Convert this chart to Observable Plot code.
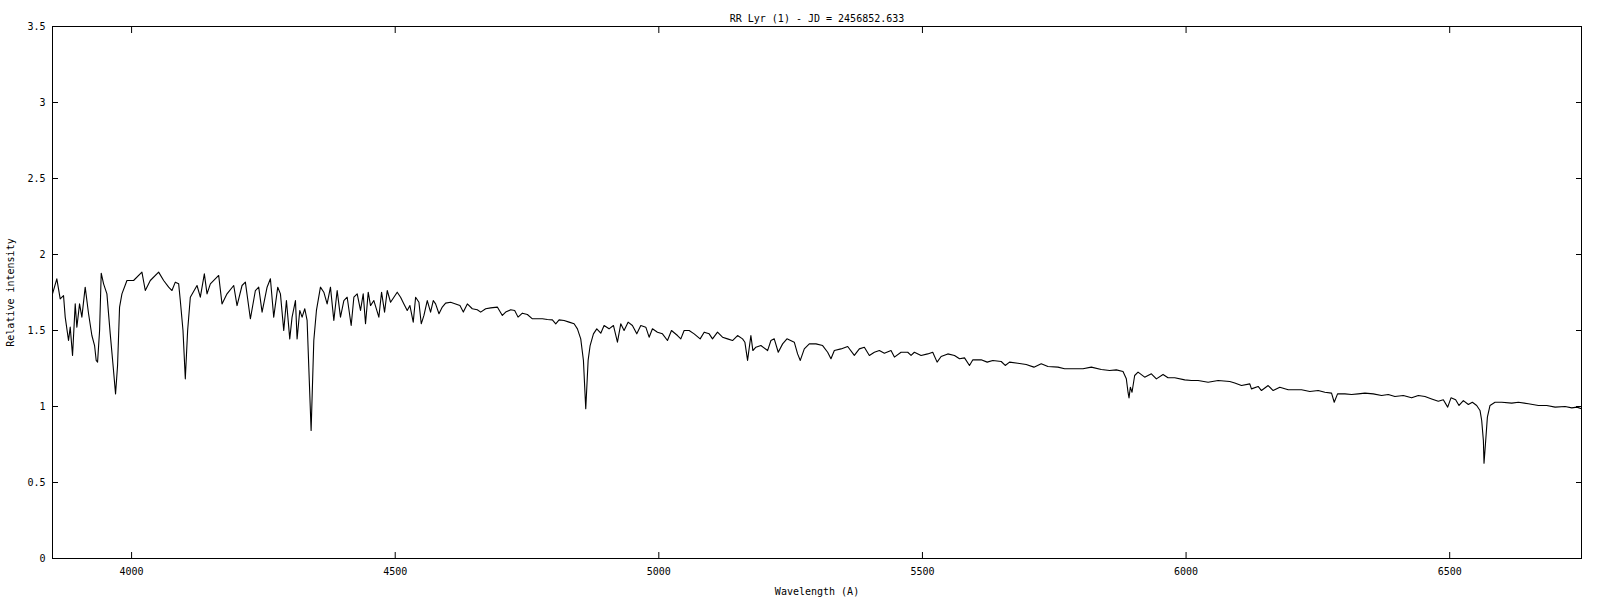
<!DOCTYPE html>
<html>
<head>
<meta charset="utf-8">
<script src="https://cdn.jsdelivr.net/npm/d3@7"></script>
<script src="https://cdn.jsdelivr.net/npm/@observablehq/plot@0.6"></script>
<style>
  html, body { margin: 0; padding: 0; background: #fff; }
  #chart svg { display: block; }
</style>
</head>
<body>
<div id="chart"></div>
<script>
const title = "RR Lyr (1) - JD = 2456852.633";
const xLabel = "Wavelength (A)";
const yLabel = "Relative intensity";
const xTicks = [4000, 4500, 5000, 5500, 6000, 6500];
const yTicks = [0, 0.5, 1, 1.5, 2, 2.5, 3, 3.5];
const xDomain = [3850, 6750];
const yDomain = [0, 3.5];

const wavelength = [
  3850.0, 3858.2, 3864.6, 3870.9, 3874.1, 3880.4, 3883.6, 3888.0, 3893.1, 3896.2,
  3901.3, 3905.7, 3912.0, 3918.4, 3924.7, 3929.8, 3932.9, 3935.5, 3939.3, 3942.4,
  3946.9, 3953.2, 3959.5, 3964.6, 3969.6, 3973.4, 3977.2, 3981.7, 3991.2, 4003.8,
  4019.6, 4026.0, 4035.5, 4051.3, 4060.8, 4070.3, 4076.6, 4082.9, 4089.3, 4092.4,
  4097.5, 4101.9, 4106.3, 4111.4, 4124.1, 4130.4, 4138.0, 4143.1, 4149.4, 4165.2,
  4171.5, 4181.0, 4193.7, 4200.0, 4209.5, 4215.8, 4225.3, 4234.8, 4241.1, 4247.5,
  4257.0, 4263.3, 4269.6, 4277.2, 4282.3, 4288.6, 4293.7, 4300.0, 4304.4, 4310.8,
  4313.9, 4319.0, 4323.4, 4328.5, 4332.9, 4336.1, 4340.5, 4345.6, 4350.6, 4358.2,
  4364.6, 4370.9, 4377.2, 4383.6, 4389.9, 4396.2, 4402.6, 4408.9, 4416.5, 4421.6,
  4427.9, 4434.2, 4439.3, 4443.7, 4448.8, 4453.2, 4459.5, 4469.0, 4474.1, 4479.8,
  4484.9, 4491.2, 4497.5, 4503.8, 4510.2, 4516.5, 4522.8, 4527.9, 4534.2, 4538.7,
  4545.0, 4549.4, 4554.5, 4560.8, 4567.1, 4572.2, 4576.6, 4583.0, 4589.3, 4595.6,
  4605.1, 4614.6, 4622.8, 4629.2, 4636.8, 4646.2, 4655.7, 4662.1, 4671.6, 4681.1,
  4693.7, 4703.2, 4709.5, 4719.0, 4726.6, 4733.0, 4741.2, 4750.7, 4760.2, 4769.7,
  4779.2, 4788.6, 4798.1, 4804.5, 4810.8, 4820.3, 4829.8, 4839.3, 4845.6, 4851.9,
  4857.0, 4861.4, 4865.9, 4869.7, 4876.0, 4882.3, 4889.9, 4896.2, 4905.6, 4913.9,
  4921.5, 4927.8, 4934.1, 4941.7, 4949.9, 4958.2, 4965.8, 4975.3, 4981.6, 4987.9,
  4997.4, 5006.9, 5016.4, 5024.0, 5035.4, 5041.7, 5048.0, 5057.5, 5067.0, 5078.4,
  5086.0, 5095.5, 5101.8, 5111.3, 5120.8, 5130.3, 5139.8, 5149.3, 5158.8, 5163.2,
  5168.3, 5174.6, 5178.4, 5184.1, 5193.6, 5206.3, 5212.6, 5218.9, 5226.5, 5234.8,
  5243.0, 5256.9, 5263.2, 5268.3, 5275.9, 5285.4, 5298.0, 5310.7, 5320.2, 5326.5,
  5332.9, 5345.5, 5358.2, 5370.8, 5380.3, 5389.8, 5399.3, 5408.8, 5418.3, 5427.8,
  5440.4, 5446.8, 5459.4, 5472.1, 5478.4, 5484.7, 5497.4, 5510.0, 5519.5, 5527.8,
  5535.4, 5548.1, 5560.8, 5570.3, 5579.8, 5589.2, 5595.6, 5611.4, 5622.8, 5633.5,
  5649.4, 5657.0, 5665.2, 5681.0, 5696.8, 5711.4, 5725.3, 5738.0, 5757.0, 5769.6,
  5788.6, 5804.4, 5820.3, 5839.2, 5855.1, 5867.7, 5880.4, 5886.7, 5889.9, 5891.8,
  5894.3, 5897.5, 5902.5, 5908.9, 5921.5, 5934.2, 5943.7, 5956.3, 5965.8, 5978.5,
  5997.5, 6010.1, 6022.8, 6041.8, 6060.8, 6082.9, 6092.4, 6105.1, 6120.9, 6124.0,
  6136.7, 6143.0, 6155.7, 6165.2, 6177.8, 6193.7, 6219.0, 6234.8, 6250.6, 6263.2,
  6275.9, 6281.0, 6287.3, 6301.2, 6313.9, 6326.5, 6339.2, 6355.0, 6370.8, 6383.5,
  6396.1, 6412.0, 6427.8, 6440.5, 6453.1, 6465.8, 6478.4, 6487.9, 6496.2, 6502.5,
  6511.3, 6517.7, 6525.9, 6535.4, 6543.0, 6551.2, 6557.5, 6560.7, 6563.9, 6565.1,
  6568.3, 6571.5, 6576.5, 6586.0, 6598.7, 6617.7, 6630.3, 6649.3, 6668.3, 6684.1,
  6700.0, 6718.9, 6731.6, 6741.1, 6750.0
];

const intensity = [
  1.741, 1.840, 1.708, 1.730, 1.588, 1.434, 1.522, 1.336, 1.675, 1.522,
  1.675, 1.588, 1.785, 1.610, 1.467, 1.401, 1.303, 1.292, 1.500, 1.877,
  1.807, 1.741, 1.478, 1.281, 1.083, 1.270, 1.654, 1.741, 1.829, 1.829,
  1.884, 1.763, 1.829, 1.884, 1.829, 1.785, 1.763, 1.818, 1.807, 1.697,
  1.500, 1.182, 1.500, 1.719, 1.796, 1.719, 1.873, 1.741, 1.807, 1.862,
  1.675, 1.741, 1.796, 1.664, 1.796, 1.818, 1.577, 1.763, 1.785, 1.621,
  1.785, 1.840, 1.588, 1.785, 1.741, 1.500, 1.697, 1.445, 1.588, 1.697,
  1.445, 1.632, 1.588, 1.643, 1.566, 1.259, 0.842, 1.434, 1.632, 1.785,
  1.752, 1.675, 1.785, 1.566, 1.763, 1.588, 1.697, 1.719, 1.533, 1.719,
  1.741, 1.632, 1.741, 1.544, 1.752, 1.664, 1.697, 1.588, 1.752, 1.621,
  1.763, 1.686, 1.719, 1.752, 1.719, 1.675, 1.632, 1.664, 1.555, 1.719,
  1.686, 1.544, 1.599, 1.697, 1.621, 1.697, 1.675, 1.610, 1.654, 1.680,
  1.686, 1.675, 1.664, 1.621, 1.675, 1.643, 1.636, 1.621, 1.643, 1.649,
  1.654, 1.599, 1.621, 1.636, 1.632, 1.588, 1.614, 1.605, 1.577, 1.577,
  1.577, 1.572, 1.570, 1.544, 1.570, 1.566, 1.555, 1.544, 1.511, 1.445,
  1.303, 0.985, 1.303, 1.401, 1.478, 1.511, 1.482, 1.533, 1.511, 1.533,
  1.423, 1.544, 1.500, 1.555, 1.533, 1.478, 1.533, 1.522, 1.456, 1.511,
  1.489, 1.478, 1.434, 1.500, 1.467, 1.445, 1.500, 1.500, 1.478, 1.445,
  1.489, 1.478, 1.445, 1.489, 1.456, 1.445, 1.434, 1.467, 1.445, 1.423,
  1.303, 1.467, 1.368, 1.390, 1.401, 1.368, 1.434, 1.445, 1.357, 1.412,
  1.445, 1.423, 1.346, 1.303, 1.379, 1.412, 1.412, 1.401, 1.357, 1.314,
  1.368, 1.379, 1.395, 1.336, 1.379, 1.390, 1.336, 1.357, 1.368, 1.351,
  1.368, 1.325, 1.357, 1.357, 1.336, 1.357, 1.336, 1.346, 1.357, 1.292,
  1.329, 1.346, 1.336, 1.314, 1.320, 1.270, 1.307, 1.307, 1.292, 1.303,
  1.296, 1.270, 1.292, 1.285, 1.276, 1.259, 1.281, 1.263, 1.259, 1.248,
  1.248, 1.248, 1.259, 1.243, 1.237, 1.241, 1.230, 1.182, 1.094, 1.057,
  1.127, 1.094, 1.204, 1.226, 1.193, 1.215, 1.182, 1.211, 1.189, 1.189,
  1.175, 1.171, 1.171, 1.160, 1.171, 1.164, 1.154, 1.138, 1.149, 1.116,
  1.132, 1.105, 1.138, 1.105, 1.127, 1.110, 1.110, 1.099, 1.105, 1.094,
  1.088, 1.028, 1.083, 1.083, 1.079, 1.083, 1.088, 1.083, 1.072, 1.079,
  1.066, 1.072, 1.057, 1.072, 1.066, 1.050, 1.035, 1.044, 0.996, 1.057,
  1.044, 1.007, 1.039, 1.013, 1.028, 1.007, 0.974, 0.908, 0.776, 0.627,
  0.776, 0.930, 1.007, 1.028, 1.028, 1.022, 1.028, 1.018, 1.007, 1.007,
  0.996, 1.000, 0.991, 0.996, 0.985
];

const spectrum = wavelength.map((w, i) => ({wavelength: w, intensity: intensity[i]}));

const font = "'DejaVu Sans Mono', monospace";
const fmt = d => String(d);

const chart = Plot.plot({
  width: 1600,
  height: 600,
  marginLeft: 52,
  marginRight: 19,
  marginTop: 26,
  marginBottom: 42,
  style: {fontFamily: font, fontSize: "10px", color: "#000", background: "#fff"},
  x: {domain: xDomain},
  y: {domain: yDomain},
  marks: [
    Plot.frame({stroke: "#000", strokeWidth: 1}),
    Plot.axisX(xTicks, {anchor: "bottom", tickSize: -6, tickPadding: 15, tickFormat: fmt,
      label: xLabel, labelAnchor: "center", labelOffset: 36, labelArrow: "none", fill: "#000"}),
    Plot.axisX(xTicks, {anchor: "top", tickSize: -6, tickFormat: () => "", label: null}),
    Plot.axisY(yTicks, {anchor: "left", tickSize: -6, tickPadding: 13, tickFormat: fmt,
      label: yLabel, labelAnchor: "center", labelOffset: 46, labelArrow: "none", fill: "#000"}),
    Plot.axisY(yTicks, {anchor: "right", tickSize: -6, tickFormat: () => "", label: null}),
    Plot.line(spectrum, {x: "wavelength", y: "intensity", stroke: "#000", strokeWidth: 1.1}),
    Plot.text([title], {frameAnchor: "top", dy: -12, fill: "#000"})
  ]
});
document.getElementById("chart").appendChild(chart);
</script>
</body>
</html>
